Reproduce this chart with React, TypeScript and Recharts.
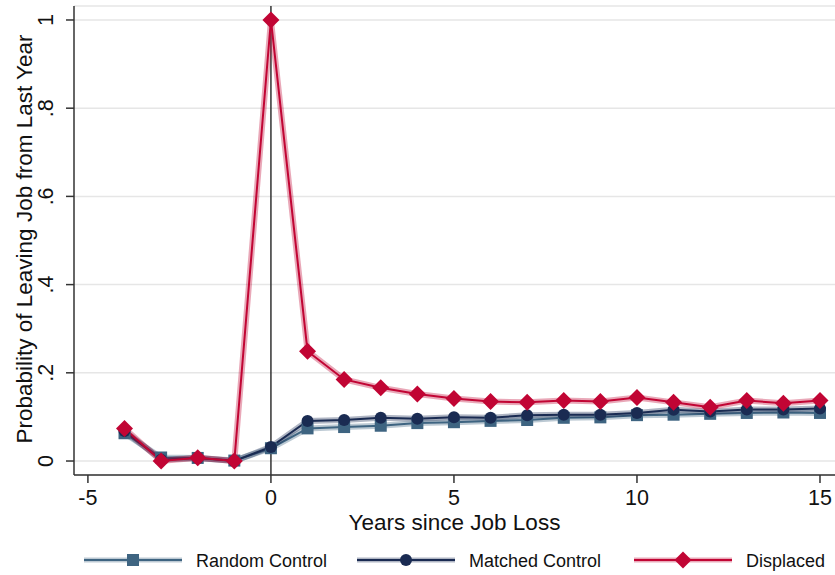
import React from "react";
import {
  LineChart,
  Line,
  XAxis,
  YAxis,
  CartesianGrid,
  ReferenceLine,
  Legend,
} from "recharts";

const years = [-4, -3, -2, -1, 0, 1, 2, 3, 4, 5, 6, 7, 8, 9, 10, 11, 12, 13, 14, 15];
const randomControl = [0.063, 0.008, 0.007, 0.001, 0.029, 0.074, 0.077, 0.080, 0.086, 0.088, 0.091, 0.093, 0.098, 0.099, 0.104, 0.105, 0.107, 0.109, 0.110, 0.109];
const matchedControl = [0.068, 0.003, 0.007, 0.0, 0.032, 0.091, 0.093, 0.098, 0.096, 0.099, 0.098, 0.104, 0.105, 0.105, 0.109, 0.116, 0.112, 0.117, 0.117, 0.119];
const displaced = [0.074, 0.0, 0.0075, 0.0, 1.0, 0.249, 0.185, 0.166, 0.152, 0.142, 0.135, 0.133, 0.137, 0.135, 0.144, 0.133, 0.122, 0.137, 0.131, 0.137];

const xTicks = [-5, 0, 5, 10, 15];
const yTicks = [0, 0.2, 0.4, 0.6, 0.8, 1];
const seriesNames = ["Random Control", "Matched Control", "Displaced"];

const data = years.map((y, i) => ({
  year: y,
  random: randomControl[i],
  matched: matchedControl[i],
  displaced: displaced[i],
}));

const C_RANDOM = "#3e6481";
const C_MATCHED = "#1a2b52";
const C_DISPLACED = "#c10534";
const FONT = "'Liberation Sans', Arial, Helvetica, sans-serif";

const Square = ({ cx, cy, fill, s = 12 }: any) => (
  <rect x={cx - s / 2} y={cy - s / 2} width={s} height={s} fill={fill} />
);
const Circle = ({ cx, cy, fill, r = 6 }: any) => <circle cx={cx} cy={cy} r={r} fill={fill} />;
const Diamond = ({ cx, cy, fill, r = 8.5 }: any) => (
  <polygon
    points={`${cx},${cy - r} ${cx + r},${cy} ${cx},${cy + r} ${cx - r},${cy}`}
    fill={fill}
  />
);

const fmtY = (v: number) => (v === 0 ? "0" : v === 1 ? "1" : String(v).replace("0.", "."));

const XTick = (props: any) => {
  const { x, y, payload } = props;
  return (
    <text x={x} y={y + 20} textAnchor="middle" fontSize={21.5} fontFamily={FONT} fill="#111">
      {payload.value}
    </text>
  );
};

const YTick = (props: any) => {
  const { x, y, payload } = props;
  const tx = x - 11;
  return (
    <text
      x={tx}
      y={y}
      transform={`rotate(-90, ${tx}, ${y})`}
      textAnchor="middle"
      fontSize={21.5}
      fontFamily={FONT}
      fill="#111"
    >
      {fmtY(payload.value)}
    </text>
  );
};

const LegendContent = () => {
  const items = [
    { name: seriesNames[0], color: C_RANDOM, x: 84, M: Square },
    { name: seriesNames[1], color: C_MATCHED, x: 357, M: Circle },
    { name: seriesNames[2], color: C_DISPLACED, x: 634, M: Diamond },
  ];
  return (
    <svg width={835} height={45} style={{ display: "block" }}>
      {items.map((it) => (
        <g key={it.name}>
          <line x1={it.x} x2={it.x + 98} y1={30} y2={30} stroke={it.color} strokeOpacity={0.35} strokeWidth={5} />
          <line x1={it.x} x2={it.x + 98} y1={30} y2={30} stroke={it.color} strokeWidth={2} />
          <it.M cx={it.x + 49} cy={30} fill={it.color} />
          <text x={it.x + 112} y={37} fontSize={18} fontFamily={FONT} fill="#111">
            {it.name}
          </text>
        </g>
      ))}
    </svg>
  );
};

export default function App() {
  return (
    <div style={{ position: "absolute", left: 0, top: 0, background: "#fff" }}>
      <LineChart width={835} height={575} data={data} margin={{ top: 6, right: 0, bottom: 0, left: 0 }}>
        <CartesianGrid horizontal vertical={false} stroke="#e6e6e6" strokeWidth={1.5} />
        <XAxis
          dataKey="year"
          type="number"
          domain={[-5.38, 15.41]}
          ticks={xTicks}
          allowDataOverflow
          height={55}
          tickSize={8}
          tick={<XTick />}
          axisLine={{ stroke: "#333", strokeWidth: 1.5 }}
          tickLine={{ stroke: "#333", strokeWidth: 1.5 }}
          label={{
            content: () => (
              <text x={454.5} y={530} textAnchor="middle" fontSize={22.5} fontFamily={FONT} fill="#111">
                Years since Job Loss
              </text>
            ),
          }}
        />
        <YAxis
          type="number"
          domain={[-0.0317, 1.0317]}
          ticks={yTicks}
          allowDataOverflow
          width={74}
          tickSize={8}
          tick={<YTick />}
          axisLine={{ stroke: "#333", strokeWidth: 1.5 }}
          tickLine={{ stroke: "#333", strokeWidth: 1.5 }}
          label={{
            content: () => (
              <text
                x={32}
                y={239}
                transform="rotate(-90, 32, 239)"
                textAnchor="middle"
                fontSize={22.5}
                fontFamily={FONT}
                fill="#111"
              >
                Probability of Leaving Job from Last Year
              </text>
            ),
          }}
        />
        <ReferenceLine x={0} stroke="#333" strokeWidth={1.5} />
        <Legend verticalAlign="bottom" content={<LegendContent />} wrapperStyle={{ height: 45 }} />

        <Line dataKey="random" stroke={C_RANDOM} strokeOpacity={0.35} strokeWidth={6} dot={false} isAnimationActive={false} legendType="none" />
        <Line
          dataKey="random"
          name={seriesNames[0]}
          stroke={C_RANDOM}
          strokeWidth={2}
          isAnimationActive={false}
          dot={(p: any) => <Square key={`r${p.index}`} cx={p.cx} cy={p.cy} fill={C_RANDOM} />}
        />
        <Line dataKey="matched" stroke={C_MATCHED} strokeOpacity={0.35} strokeWidth={6} dot={false} isAnimationActive={false} legendType="none" />
        <Line
          dataKey="matched"
          name={seriesNames[1]}
          stroke={C_MATCHED}
          strokeWidth={2}
          isAnimationActive={false}
          dot={(p: any) => <Circle key={`m${p.index}`} cx={p.cx} cy={p.cy} fill={C_MATCHED} />}
        />
        <Line dataKey="displaced" stroke={C_DISPLACED} strokeOpacity={0.35} strokeWidth={6} dot={false} isAnimationActive={false} legendType="none" />
        <Line
          dataKey="displaced"
          name={seriesNames[2]}
          stroke={C_DISPLACED}
          strokeWidth={2}
          isAnimationActive={false}
          dot={(p: any) => <Diamond key={`d${p.index}`} cx={p.cx} cy={p.cy} fill={C_DISPLACED} />}
        />
      </LineChart>
    </div>
  );
}
